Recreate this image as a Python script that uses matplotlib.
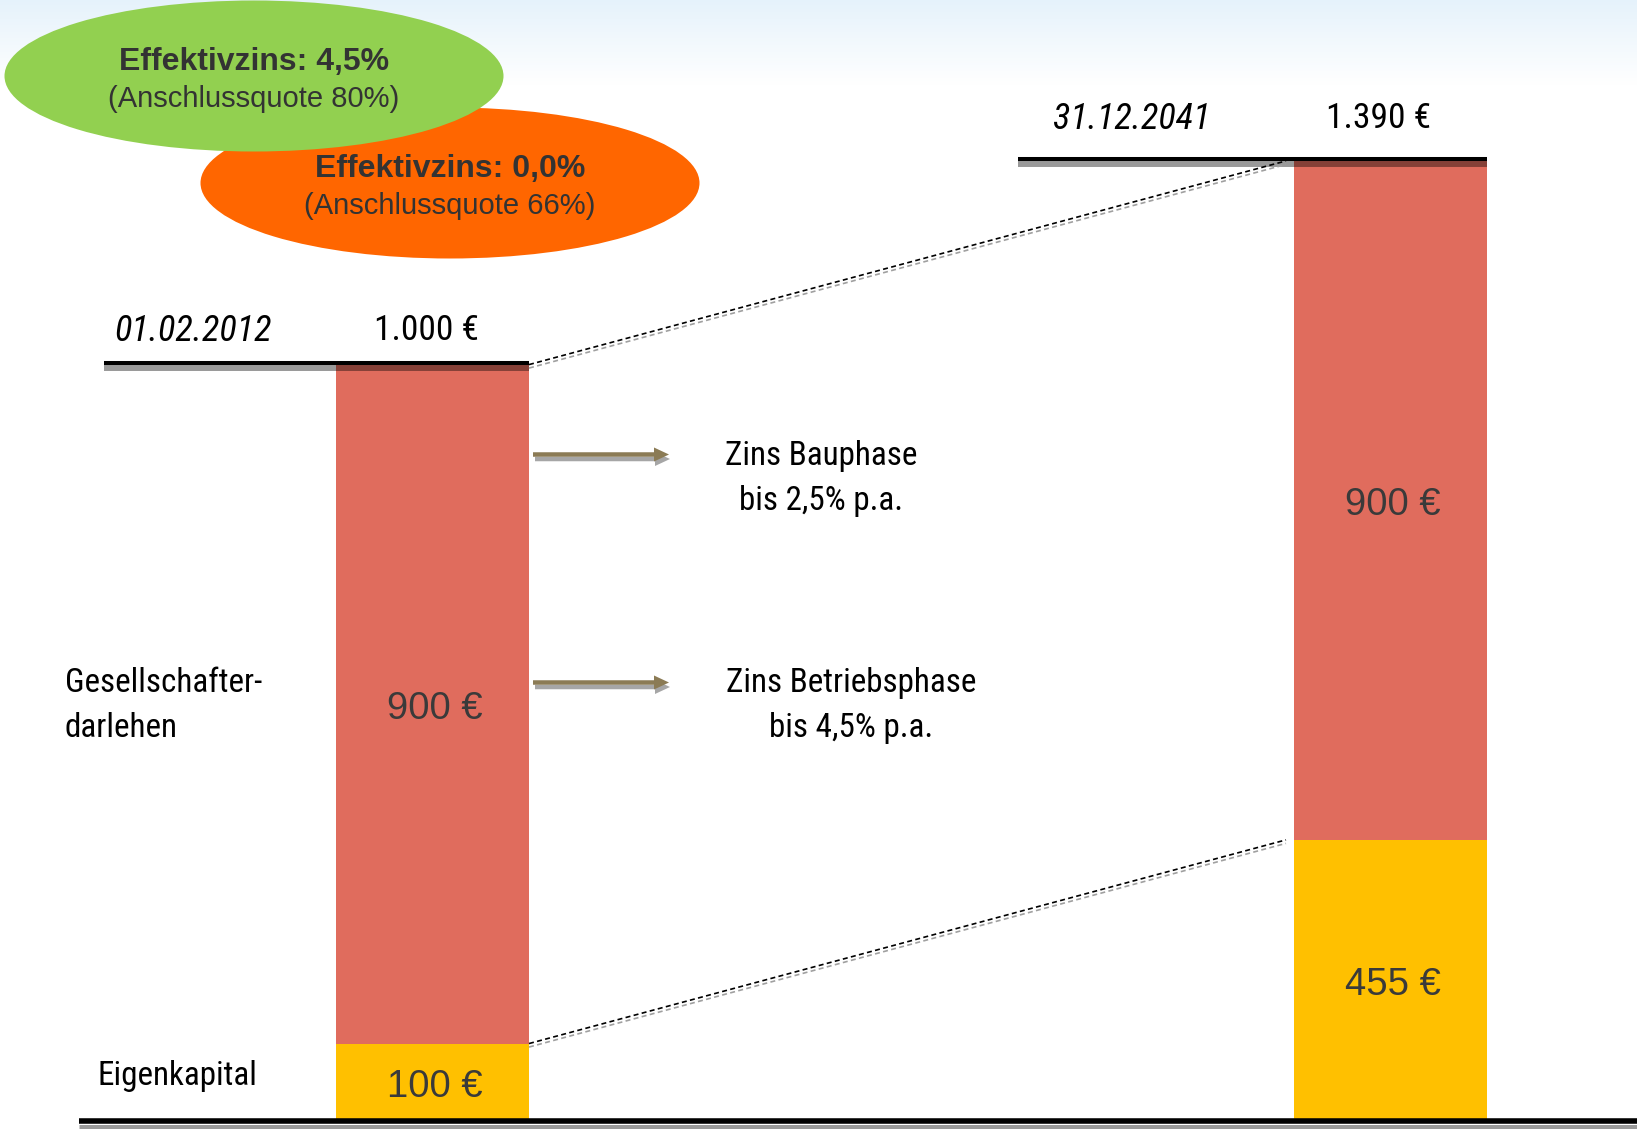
import matplotlib
matplotlib.use('Agg')
import matplotlib.pyplot as plt
import numpy as np
from matplotlib import transforms, font_manager
from matplotlib.patches import Ellipse, FancyArrow

# Data
dates = ['01.02.2012', '31.12.2041']
totals = ['1.000 €', '1.390 €']
eigen_labels = ['100 €', '455 €']
darlehen_labels = ['900 €', '900 €']
# segment heights as drawn in the original (right bar is not to scale)
eigen_heights = [100, 370]
darlehen_heights = [900, 900]
row_labels = ['Gesellschafter-\ndarlehen', 'Eigenkapital']
zins_texts = ['Zins Bauphase\nbis 2,5% p.a.', 'Zins Betriebsphase\nbis 4,5% p.a.']
bubbles = [('Effektivzins: 0,0%', '(Anschlussquote 66%)', '#FF6600'),
           ('Effektivzins: 4,5%', '(Anschlussquote 80%)', '#92D050')]

RED = '#E06C5D'
YELLOW = '#FFC000'
W, H = 1637, 1129
PX_PER_UNIT = 0.7544

names = {f.name for f in font_manager.fontManager.ttflist}
NARROW = 'DejaVu Sans'
for cand in ['Roboto Condensed', 'PT Sans Narrow', 'IBM Plex Sans Condensed',
             'Open Sans Condensed']:
    if cand in names:
        NARROW = cand
        break
SANS = 'Liberation Sans'

fig = plt.figure(figsize=(W / 100, H / 100), dpi=100)
renderer = fig.canvas.get_renderer()


def fit_size(txt, target_px, **kw):
    # font size so that txt is target_px wide in the narrow font
    t = fig.text(0, 0, txt, fontsize=20, family=NARROW, **kw)
    w = t.get_window_extent(renderer=renderer).width
    t.remove()
    return 20 * target_px / w


NS = fit_size('Zins Betriebsphase', 250)
DS = fit_size('01.02.2012', 157, style='italic')
TS = fit_size('1.000 €', 105)

# data axes for the bars
ax = fig.add_axes([0, 0, 1, 1])
ax.set_xlim(0, W)
ax.set_ylim(-10 / PX_PER_UNIT, 1119 / PX_PER_UNIT)
ax.axis('off')

xs = [432.5, 1390.5]
bw = 193
ax.bar(xs, eigen_heights, width=bw, color=YELLOW, zorder=2)
ax.bar(xs, darlehen_heights, bottom=eigen_heights, width=bw, color=RED, zorder=2)
tops = [e + d for e, d in zip(eigen_heights, darlehen_heights)]


def offs(dy, dx=0):
    return transforms.offset_copy(ax.transData, fig=fig, x=dx, y=dy, units='dots')


# top lines with shadow
line_spans = [(104, xs[0] + bw / 2), (1018, xs[1] + bw / 2)]
for (x0, x1), t in zip(line_spans, tops):
    ax.plot([x0, x1], [t, t], color='black', alpha=0.4, lw=4.3,
            solid_capstyle='butt', transform=offs(-3.5), zorder=3)
    ax.plot([x0, x1], [t, t], color='black', lw=2.9,
            solid_capstyle='butt', transform=offs(1.5), zorder=4)

# bottom line
ax.plot([79, W], [0, 0], color='black', alpha=0.4, lw=3.6,
        solid_capstyle='butt', transform=offs(-7.5), zorder=3)
ax.plot([79, W], [0, 0], color='black', lw=4.0,
        solid_capstyle='butt', transform=offs(-2.3), zorder=4)

# dashed connectors between the bars
xl = xs[0] + bw / 2
xr = xs[1] - bw / 2 - 8
for y0, y1 in [(tops[0], tops[1]), (eigen_heights[0], eigen_heights[1])]:
    ax.plot([xl, xr], [y0, y1], color='#A0A0A0', lw=1.2, ls=(0, (3, 2)),
            transform=offs(-3.5), zorder=3)
    ax.plot([xl, xr], [y0, y1], color='black', lw=1.2, ls=(0, (3, 2)), zorder=4)

# value labels inside the bars
for x, e, d, el, dl in zip(xs, eigen_heights, darlehen_heights,
                           eigen_labels, darlehen_labels):
    ax.text(x + 2, e / 2, el, ha='center', va='center', fontsize=27.5,
            family=SANS, color='#3A3A3A', zorder=5, transform=offs(-6))
    ax.text(x + 2, e + d / 2, dl, ha='center', va='center', fontsize=27.5,
            family=SANS, color='#3A3A3A', zorder=5, transform=offs(-5))

# overlay axes in pixel coordinates (y downwards)
ov = fig.add_axes([0, 0, 1, 1])
ov.set_xlim(0, W)
ov.set_ylim(H, 0)
ov.axis('off')
ov.patch.set_alpha(0)

# light blue gradient at the top
grad = np.linspace(0, 1, 100).reshape(-1, 1)
top_col = np.array([0.90, 0.95, 0.985])
img = top_col + (1 - top_col) * grad[..., None]
img = np.repeat(img, 2, axis=1)
ov.imshow(img, extent=(0, W, 85, 0), aspect='auto', zorder=0)

# bubbles
centers = [(450, 183), (254, 76)]
for (c, (t1, t2, col)) in zip(centers, bubbles):
    ov.add_patch(Ellipse(c, 499, 151, facecolor=col, edgecolor='none', zorder=1))
    ov.text(c[0], c[1] - 14, t1, ha='center', va='center', fontsize=23,
            fontweight='bold', family=SANS, color='#333333', zorder=2)
    ov.text(c[0], c[1] + 23, t2, ha='center', va='center', fontsize=21,
            family=SANS, color='#333333', zorder=2)

# dates and totals
for (dx, tx, y), d, t in zip([(193, 426, 331), (1132, 1379, 119)], dates, totals):
    ov.text(dx, y, d, ha='center', va='center', fontsize=DS, style='italic',
            family=NARROW, color='black')
    ov.text(tx, y, t, ha='center', va='center', fontsize=TS,
            family=NARROW, color='black')

# row labels on the left
g1, g2 = row_labels[0].split('\n')
ov.text(65, 683, g1, ha='left', va='center', fontsize=NS, family=NARROW)
ov.text(65, 728, g2, ha='left', va='center', fontsize=NS, family=NARROW)
ov.text(98, 1076, row_labels[1], ha='left', va='center', fontsize=NS, family=NARROW)

# arrows and interest texts
for ay, tx, ty, txt in zip([454.5, 682.5], [821, 851], [456, 683], zins_texts):
    ov.add_patch(FancyArrow(533 + 2, ay + 4.5, 135, 0, width=4.5, head_width=14,
                            head_length=15, length_includes_head=True,
                            color='#A6A6A6', lw=0, zorder=2))
    ov.add_patch(FancyArrow(533, ay, 136, 0, width=4.5, head_width=14,
                            head_length=15, length_includes_head=True,
                            color='#8B7B55', lw=0, zorder=3))
    l1, l2 = txt.split('\n')
    ov.text(tx, ty, l1, ha='center', va='center', fontsize=NS, family=NARROW)
    ov.text(tx, ty + 45, l2, ha='center', va='center', fontsize=NS, family=NARROW)

plt.savefig('out.png', dpi=100)
plt.close()
